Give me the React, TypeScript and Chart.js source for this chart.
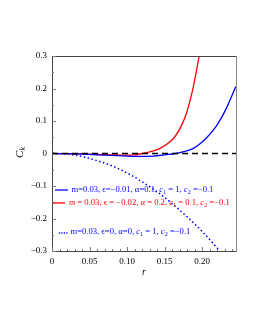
import React, { useEffect, useRef } from "react";
import { Chart, registerables } from "chart.js";

Chart.register(...registerables);

const blueR = [0, 0.02, 0.04, 0.06, 0.08, 0.1, 0.12, 0.135, 0.15, 0.165, 0.178, 0.1875, 0.195, 0.205, 0.219, 0.232, 0.2447];
const blueC = [0, -0.0005, -0.002, -0.004, -0.006, -0.008, -0.009, -0.008, -0.004, 0.0, 0.007, 0.015, 0.026, 0.046, 0.085, 0.138, 0.206];

const redR = [0, 0.04, 0.08, 0.1, 0.11, 0.12, 0.13, 0.143, 0.156, 0.163, 0.17, 0.1786, 0.1875, 0.196];
const redC = [0, -0.001, -0.004, -0.005, -0.004, 0, 0.005, 0.015, 0.034, 0.05, 0.075, 0.121, 0.198, 0.3];

const dotR = [0, 0.02, 0.04, 0.06, 0.08, 0.1, 0.12, 0.14, 0.16, 0.18, 0.2, 0.222];
const dotC = [0, -0.002, -0.009, -0.022, -0.038, -0.06, -0.087, -0.118, -0.154, -0.195, -0.24, -0.296];

const zeroR = [0, 0.245];
const zeroC = [0, 0];

const xTickValues = [0, 0.05, 0.1, 0.15, 0.2];
const xTickLabels = ["0", "0.05", "0.10", "0.15", "0.20"];
const yTickValues = [-0.3, -0.2, -0.1, 0, 0.1, 0.2, 0.3];
const yTickLabels = ["\u22120.3", "\u22120.2", "\u22120.1", "0", "0.1", "0.2", "0.3"];

type Seg = { t: string; sub?: boolean; it?: boolean };
const legend1: Seg[] = [
  { t: "m=0.03, \u03f5=\u22120.01, \u03b1=0.1, " }, { t: "c", it: true }, { t: "1", sub: true },
  { t: " = 1, " }, { t: "c", it: true }, { t: "2", sub: true }, { t: " =\u22120.1" },
];
const legend2: Seg[] = [
  { t: "m", it: true }, { t: " = 0.03, \u03f5 = \u22120.02, \u03b1 = 0.2, " }, { t: "c", it: true }, { t: "1", sub: true },
  { t: " = 0.1, " }, { t: "c", it: true }, { t: "2", sub: true }, { t: " =\u22120.1" },
];
const legend3: Seg[] = [
  { t: "m=0.03, \u03f5=0, \u03b1=0, " }, { t: "c", it: true }, { t: "1", sub: true },
  { t: " = 1, " }, { t: "c", it: true }, { t: "2", sub: true }, { t: " =\u22120.1" },
];

const FONT = '"Liberation Serif", "Times New Roman", serif';
const BLUE = "#0000ff";
const RED = "#ff0000";

function drawRich(ctx: CanvasRenderingContext2D, segs: Seg[], x: number, y: number, size: number, color: string) {
  ctx.fillStyle = color;
  ctx.textBaseline = "middle";
  ctx.textAlign = "left";
  let cx = x;
  for (const s of segs) {
    const fs = s.sub ? size * 0.72 : size;
    ctx.font = `${s.it ? "italic " : ""}${fs}px ${FONT}`;
    ctx.fillText(s.t, cx, s.sub ? y + size * 0.3 : y);
    cx += ctx.measureText(s.t).width;
  }
}

const pts = (xs: number[], ys: number[]) => xs.map((x, i) => ({ x, y: ys[i] }));

export default function App() {
  const ref = useRef<HTMLCanvasElement | null>(null);
  useEffect(() => {
    document.body.style.margin = "0";
    const canvas = ref.current!;
    const overlay = {
      id: "overlay",
      afterDraw(chart: any) {
        const ctx = chart.ctx as CanvasRenderingContext2D;
        const a = chart.chartArea;
        const xs = chart.scales.x;
        const ys = chart.scales.y;
        ctx.save();
        // frame
        ctx.lineWidth = 1;
        ctx.strokeStyle = "#444";
        ctx.beginPath();
        ctx.moveTo(a.left + 0.5, a.bottom + 0.5);
        ctx.lineTo(a.left + 0.5, a.top + 0.5);
        ctx.lineTo(a.right + 0.5, a.top + 0.5);
        ctx.moveTo(a.left, a.bottom + 0.5);
        ctx.lineTo(a.right + 0.5, a.bottom + 0.5);
        ctx.stroke();
        ctx.strokeStyle = "#888";
        ctx.beginPath();
        ctx.moveTo(a.right + 0.5, a.top);
        ctx.lineTo(a.right + 0.5, a.bottom + 0.5);
        ctx.stroke();
        // inward ticks
        ctx.strokeStyle = "#777";
        ctx.beginPath();
        for (let i = 0; i <= 24; i++) {
          const v = i / 100;
          const px = Math.round(xs.getPixelForValue(v)) + 0.5;
          const len = i % 5 === 0 ? 4 : 2;
          ctx.moveTo(px, a.bottom);
          ctx.lineTo(px, a.bottom - len);
        }
        for (let i = -6; i <= 6; i++) {
          const v = i / 20;
          const py = Math.round(ys.getPixelForValue(v)) + 0.5;
          const len = i % 2 === 0 ? 4 : 2;
          ctx.moveTo(a.left, py);
          ctx.lineTo(a.left + len, py);
        }
        ctx.stroke();
        // legend
        const y1 = 190, y2 = 203, y3 = 231.5;
        ctx.lineWidth = 1.3;
        ctx.strokeStyle = BLUE;
        ctx.beginPath(); ctx.moveTo(55, y1); ctx.lineTo(68, y1); ctx.stroke();
        ctx.strokeStyle = RED;
        ctx.beginPath(); ctx.moveTo(53, y2); ctx.lineTo(65, y2); ctx.stroke();
        ctx.strokeStyle = BLUE;
        ctx.setLineDash([1.2, 1.2]);
        ctx.beginPath(); ctx.moveTo(59, y3 + 1.5); ctx.lineTo(68, y3 + 1.5); ctx.stroke();
        ctx.setLineDash([]);
        drawRich(ctx, legend1, 71.5, y1, 8.6, BLUE);
        drawRich(ctx, legend2, 69, y2, 8.6, RED);
        drawRich(ctx, legend3, 70.5, y3, 8.6, BLUE);
        // axis titles
        ctx.fillStyle = "#000";
        ctx.font = `italic 10px ${FONT}`;
        ctx.textAlign = "center";
        ctx.textBaseline = "middle";
        ctx.fillText("r", (a.left + a.right) / 2, 272);
        ctx.translate(20, 153);
        ctx.rotate(-Math.PI / 2);
        ctx.font = `italic 11px ${FONT}`;
        ctx.textAlign = "left";
        ctx.fillText("C", -5, 0);
        ctx.font = `italic 8px ${FONT}`;
        ctx.fillText("k", 2.5, 3);
        ctx.restore();
      },
    };
    const chart = new Chart(canvas, {
      type: "line",
      data: {
        datasets: [
          { data: pts(zeroR, zeroC), borderColor: "#000", borderWidth: 1.3, borderDash: [6, 4], pointRadius: 0 },
          { data: pts(blueR, blueC), borderColor: BLUE, borderWidth: 1.3, pointRadius: 0, cubicInterpolationMode: "monotone" },
          { data: pts(redR, redC), borderColor: RED, borderWidth: 1.3, pointRadius: 0, cubicInterpolationMode: "monotone" },
          { data: pts(dotR, dotC), borderColor: BLUE, borderWidth: 1.5, borderDash: [1.5, 2.5], pointRadius: 0, cubicInterpolationMode: "monotone" },
        ],
      },
      options: {
        animation: false,
        responsive: false,
        layout: { padding: { left: 0, right: 19, top: 56, bottom: 0 } },
        plugins: { legend: { display: false }, tooltip: { enabled: false } },
        scales: {
          x: {
            type: "linear",
            min: 0,
            max: 0.245,
            afterFit: (s: any) => { s.height = 79; },
            afterBuildTicks: (s: any) => { s.ticks = xTickValues.map((v) => ({ value: v })); },
            grid: { display: false, drawTicks: false },
            border: { display: false },
            ticks: {
              padding: 5,
              color: "#000",
              font: { family: FONT, size: 9 },
              maxRotation: 0,
              autoSkip: false,
              callback: (v: any) => { const i = xTickValues.findIndex((t) => Math.abs(t - v) < 1e-9); return i >= 0 ? xTickLabels[i] : ""; },
            },
          },
          y: {
            min: -0.3,
            max: 0.3,
            afterFit: (s: any) => { s.width = 52; },
            afterBuildTicks: (s: any) => { s.ticks = yTickValues.map((v) => ({ value: v })); },
            grid: { display: false, drawTicks: false },
            border: { display: false },
            ticks: {
              padding: 5,
              color: "#000",
              font: { family: FONT, size: 9 },
              autoSkip: false,
              callback: (v: any) => { const i = yTickValues.findIndex((t) => Math.abs(t - v) < 1e-9); return i >= 0 ? yTickLabels[i] : ""; },
            },
          },
        },
      },
      plugins: [overlay],
    } as any);
    return () => chart.destroy();
  }, []);
  return (
    <div style={{ width: 255, height: 330, background: "#fff" }}>
      <canvas ref={ref} width={255} height={330} style={{ display: "block" }} />
    </div>
  );
}
